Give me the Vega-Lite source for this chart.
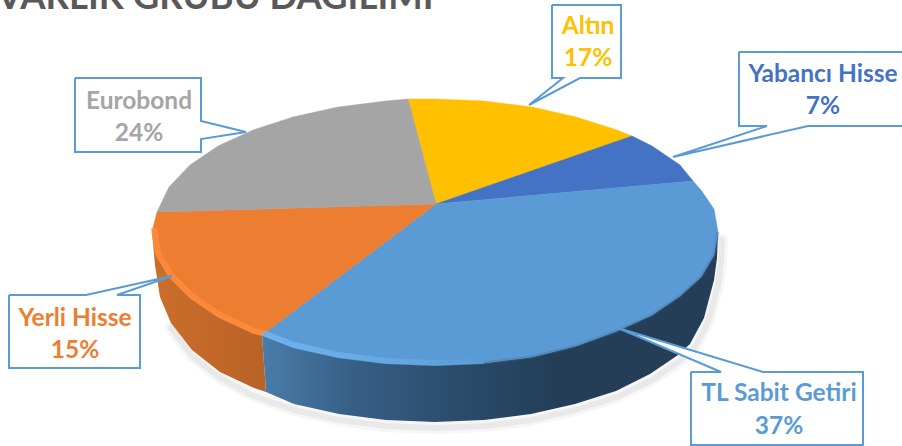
{"$schema":"https://vega.github.io/schema/vega-lite/v6.json","width":902,"height":446,"autosize":{"type":"none"},"padding":0,"background":"white","view":{"stroke":null},
"config":{"font":"Lato"},
"datasets":{
"faces":[
{"s":"Altın","i":0,"x":436,"y":204},{"s":"Altın","i":1,"x":408,"y":99},{"s":"Altın","i":2,"x":435,"y":99},{"s":"Altın","i":3,"x":484,"y":101},{"s":"Altın","i":4,"x":532,"y":107},{"s":"Altın","i":5,"x":576,"y":117},{"s":"Altın","i":6,"x":617,"y":130},{"s":"Altın","i":7,"x":632,"y":136},{"s":"Altın","i":8,"x":436,"y":204},
{"s":"Yabancı Hisse","i":0,"x":436,"y":204},{"s":"Yabancı Hisse","i":1,"x":632,"y":136},{"s":"Yabancı Hisse","i":2,"x":652,"y":146},{"s":"Yabancı Hisse","i":3,"x":680,"y":165},{"s":"Yabancı Hisse","i":4,"x":693,"y":181},{"s":"Yabancı Hisse","i":5,"x":436,"y":204},
{"s":"TL Sabit Getiri","i":0,"x":436,"y":204},{"s":"TL Sabit Getiri","i":1,"x":693,"y":181},{"s":"TL Sabit Getiri","i":2,"x":701,"y":190},{"s":"TL Sabit Getiri","i":3,"x":714,"y":209},{"s":"TL Sabit Getiri","i":4,"x":718,"y":232},{"s":"TL Sabit Getiri","i":5,"x":714,"y":255},{"s":"TL Sabit Getiri","i":6,"x":701,"y":277},{"s":"TL Sabit Getiri","i":7,"x":680,"y":296},{"s":"TL Sabit Getiri","i":8,"x":652,"y":315},{"s":"TL Sabit Getiri","i":9,"x":617,"y":331},{"s":"TL Sabit Getiri","i":10,"x":576,"y":346},{"s":"TL Sabit Getiri","i":11,"x":532,"y":357},{"s":"TL Sabit Getiri","i":12,"x":484,"y":363},{"s":"TL Sabit Getiri","i":13,"x":435,"y":365},{"s":"TL Sabit Getiri","i":14,"x":386,"y":363},{"s":"TL Sabit Getiri","i":15,"x":338,"y":357},{"s":"TL Sabit Getiri","i":16,"x":293,"y":347},{"s":"TL Sabit Getiri","i":17,"x":262,"y":335},{"s":"TL Sabit Getiri","i":18,"x":436,"y":204},
{"s":"Yerli Hisse","i":0,"x":436,"y":204},{"s":"Yerli Hisse","i":1,"x":262,"y":335},{"s":"Yerli Hisse","i":2,"x":253,"y":333},{"s":"Yerli Hisse","i":3,"x":218,"y":317},{"s":"Yerli Hisse","i":4,"x":190,"y":298},{"s":"Yerli Hisse","i":5,"x":169,"y":277},{"s":"Yerli Hisse","i":6,"x":156,"y":255},{"s":"Yerli Hisse","i":7,"x":152,"y":232},{"s":"Yerli Hisse","i":8,"x":157,"y":212},{"s":"Yerli Hisse","i":9,"x":436,"y":204},
{"s":"Eurobond","i":0,"x":436,"y":204},{"s":"Eurobond","i":1,"x":157,"y":212},{"s":"Eurobond","i":2,"x":169,"y":187},{"s":"Eurobond","i":3,"x":190,"y":165},{"s":"Eurobond","i":4,"x":218,"y":146},{"s":"Eurobond","i":5,"x":253,"y":130},{"s":"Eurobond","i":6,"x":293,"y":117},{"s":"Eurobond","i":7,"x":338,"y":107},{"s":"Eurobond","i":8,"x":386,"y":101},{"s":"Eurobond","i":9,"x":408,"y":99},{"s":"Eurobond","i":10,"x":436,"y":204}
],
"sides":[
{"s":"Yerli Hisse","i":0,"x":152,"y":232},{"s":"Yerli Hisse","i":1,"x":156,"y":255},{"s":"Yerli Hisse","i":2,"x":169,"y":277},{"s":"Yerli Hisse","i":3,"x":190,"y":298},{"s":"Yerli Hisse","i":4,"x":218,"y":317},{"s":"Yerli Hisse","i":5,"x":253,"y":333},{"s":"Yerli Hisse","i":6,"x":262,"y":335},{"s":"Yerli Hisse","i":7,"x":266,"y":392},{"s":"Yerli Hisse","i":8,"x":254,"y":388},{"s":"Yerli Hisse","i":9,"x":220,"y":372},{"s":"Yerli Hisse","i":10,"x":192,"y":350},{"s":"Yerli Hisse","i":11,"x":171,"y":323},{"s":"Yerli Hisse","i":12,"x":160,"y":297},{"s":"Yerli Hisse","i":13,"x":155,"y":265},{"s":"Yerli Hisse","i":14,"x":152,"y":232},
{"s":"TL Sabit Getiri","i":0,"x":262,"y":335},{"s":"TL Sabit Getiri","i":1,"x":293,"y":347},{"s":"TL Sabit Getiri","i":2,"x":338,"y":357},{"s":"TL Sabit Getiri","i":3,"x":386,"y":363},{"s":"TL Sabit Getiri","i":4,"x":435,"y":365},{"s":"TL Sabit Getiri","i":5,"x":484,"y":363},{"s":"TL Sabit Getiri","i":6,"x":532,"y":357},{"s":"TL Sabit Getiri","i":7,"x":576,"y":346},{"s":"TL Sabit Getiri","i":8,"x":617,"y":331},{"s":"TL Sabit Getiri","i":9,"x":652,"y":315},{"s":"TL Sabit Getiri","i":10,"x":680,"y":296},{"s":"TL Sabit Getiri","i":11,"x":701,"y":277},{"s":"TL Sabit Getiri","i":12,"x":714,"y":255},{"s":"TL Sabit Getiri","i":13,"x":718,"y":232},{"s":"TL Sabit Getiri","i":14,"x":717,"y":258},{"s":"TL Sabit Getiri","i":15,"x":714,"y":280},{"s":"TL Sabit Getiri","i":16,"x":704,"y":318},{"s":"TL Sabit Getiri","i":17,"x":690,"y":344},{"s":"TL Sabit Getiri","i":18,"x":678,"y":355},{"s":"TL Sabit Getiri","i":19,"x":650,"y":374},{"s":"TL Sabit Getiri","i":20,"x":616,"y":391},{"s":"TL Sabit Getiri","i":21,"x":575,"y":404},{"s":"TL Sabit Getiri","i":22,"x":531,"y":414},{"s":"TL Sabit Getiri","i":23,"x":484,"y":420},{"s":"TL Sabit Getiri","i":24,"x":435,"y":422},{"s":"TL Sabit Getiri","i":25,"x":386,"y":420},{"s":"TL Sabit Getiri","i":26,"x":339,"y":414},{"s":"TL Sabit Getiri","i":27,"x":294,"y":404},{"s":"TL Sabit Getiri","i":28,"x":266,"y":392},{"s":"TL Sabit Getiri","i":29,"x":262,"y":335}
],
"shadow":[
{"i":0,"x":722,"y":240},{"i":1,"x":721,"y":262},{"i":2,"x":718,"y":285},{"i":3,"x":708,"y":322},{"i":4,"x":694,"y":349},{"i":5,"x":681,"y":360},{"i":6,"x":652,"y":380},{"i":7,"x":617,"y":397},{"i":8,"x":575,"y":410},{"i":9,"x":531,"y":420},{"i":10,"x":484,"y":426},{"i":11,"x":435,"y":428},{"i":12,"x":386,"y":426},{"i":13,"x":339,"y":420},{"i":14,"x":294,"y":410},{"i":15,"x":254,"y":396},{"i":16,"x":220,"y":378},{"i":17,"x":192,"y":356},{"i":18,"x":171,"y":328}
],
"rimO":[
{"i":0,"x":154,"y":228},{"i":1,"x":158,"y":253},{"i":2,"x":171,"y":275},{"i":3,"x":192,"y":296},{"i":4,"x":220,"y":315},{"i":5,"x":254,"y":331},{"i":6,"x":263,"y":333}
],
"rimB":[
{"i":0,"x":263,"y":333},{"i":1,"x":294,"y":345},{"i":2,"x":338,"y":355},{"i":3,"x":386,"y":361},{"i":4,"x":435,"y":363},{"i":5,"x":484,"y":361}
],
"rimD":[
{"i":0,"x":484,"y":363},{"i":1,"x":532,"y":357},{"i":2,"x":576,"y":346},{"i":3,"x":617,"y":331},{"i":4,"x":652,"y":315},{"i":5,"x":680,"y":296},{"i":6,"x":701,"y":277},{"i":7,"x":714,"y":255},{"i":8,"x":718,"y":232}
],
"boxes":[
{"s":"Altın","i":0,"x":552,"y":5},{"s":"Altın","i":1,"x":621,"y":5},{"s":"Altın","i":2,"x":621,"y":78},{"s":"Altın","i":3,"x":580,"y":78},{"s":"Altın","i":4,"x":529,"y":105},{"s":"Altın","i":5,"x":563,"y":78},{"s":"Altın","i":6,"x":552,"y":78},{"s":"Altın","i":7,"x":552,"y":5},
{"s":"Yabancı Hisse","i":0,"x":739,"y":52},{"s":"Yabancı Hisse","i":1,"x":905,"y":52},{"s":"Yabancı Hisse","i":2,"x":905,"y":126},{"s":"Yabancı Hisse","i":3,"x":808,"y":126},{"s":"Yabancı Hisse","i":4,"x":673,"y":157},{"s":"Yabancı Hisse","i":5,"x":767,"y":126},{"s":"Yabancı Hisse","i":6,"x":739,"y":126},{"s":"Yabancı Hisse","i":7,"x":739,"y":52},
{"s":"Eurobond","i":0,"x":75,"y":78},{"s":"Eurobond","i":1,"x":201,"y":78},{"s":"Eurobond","i":2,"x":201,"y":121},{"s":"Eurobond","i":3,"x":246,"y":132},{"s":"Eurobond","i":4,"x":201,"y":139},{"s":"Eurobond","i":5,"x":201,"y":152},{"s":"Eurobond","i":6,"x":75,"y":152},{"s":"Eurobond","i":7,"x":75,"y":78},
{"s":"Yerli Hisse","i":0,"x":9,"y":295},{"s":"Yerli Hisse","i":1,"x":86,"y":295},{"s":"Yerli Hisse","i":2,"x":172,"y":276},{"s":"Yerli Hisse","i":3,"x":117,"y":295},{"s":"Yerli Hisse","i":4,"x":140,"y":295},{"s":"Yerli Hisse","i":5,"x":140,"y":368},{"s":"Yerli Hisse","i":6,"x":9,"y":368},{"s":"Yerli Hisse","i":7,"x":9,"y":295},
{"s":"TL Sabit Getiri","i":0,"x":691,"y":372},{"s":"TL Sabit Getiri","i":1,"x":721,"y":372},{"s":"TL Sabit Getiri","i":2,"x":618,"y":328},{"s":"TL Sabit Getiri","i":3,"x":763,"y":372},{"s":"TL Sabit Getiri","i":4,"x":863,"y":372},{"s":"TL Sabit Getiri","i":5,"x":863,"y":445},{"s":"TL Sabit Getiri","i":6,"x":691,"y":445},{"s":"TL Sabit Getiri","i":7,"x":691,"y":372}
],
"labels":[
{"s":"Altın","pct":0.17,"x":588,"y1":27,"y2":59},
{"s":"Yabancı Hisse","pct":0.07,"x":823,"y1":75,"y2":107},
{"s":"Eurobond","pct":0.24,"x":139,"y1":102,"y2":134},
{"s":"Yerli Hisse","pct":0.15,"x":75,"y1":319,"y2":351},
{"s":"TL Sabit Getiri","pct":0.37,"x":779,"y1":394,"y2":427}
],
"title":[{"t":"VARLIK GRUBU DAĞILIMI","x":-3,"y":9}]
},
"encoding":{
"x":{"field":"x","type":"quantitative","scale":{"domain":[0,902],"nice":false,"zero":false},"axis":null},
"y":{"field":"y","type":"quantitative","scale":{"domain":[446,0],"nice":false,"zero":false},"axis":null}
},
"layer":[
{"data":{"name":"title"},"mark":{"type":"text","align":"left","baseline":"alphabetic","fontSize":36.5,"fontWeight":"bold","font":"Lato","color":"#595959"},"encoding":{"text":{"field":"t"}}},
{"data":{"name":"shadow"},"mark":{"type":"line","stroke":"#000000","strokeWidth":12,"opacity":0.035,"strokeCap":"round","strokeJoin":"round"},"encoding":{"order":{"field":"i"}}},
{"data":{"name":"shadow"},"mark":{"type":"line","stroke":"#000000","strokeWidth":6,"opacity":0.05,"strokeCap":"round","strokeJoin":"round"},"encoding":{"order":{"field":"i"}}},
{"data":{"name":"sides"},"transform":[{"filter":"datum.s==='Yerli Hisse'"}],"mark":{"type":"line","fill":{"gradient":"linear","x1":0,"x2":1,"y1":0,"y2":0,"stops":[{"offset":0,"color":"#CC6E2B"},{"offset":1,"color":"#B86226"}]},"stroke":null},"encoding":{"order":{"field":"i"}}},
{"data":{"name":"sides"},"transform":[{"filter":"datum.s==='TL Sabit Getiri'"}],"mark":{"type":"line","fill":{"gradient":"linear","x1":0,"x2":1,"y1":0,"y2":0,"stops":[{"offset":0,"color":"#4A7CA8"},{"offset":0.2,"color":"#375F86"},{"offset":0.45,"color":"#2A4A69"},{"offset":0.65,"color":"#233E56"},{"offset":1,"color":"#233E56"}]},"stroke":null},"encoding":{"order":{"field":"i"}}},
{"data":{"name":"faces"},"mark":{"type":"line","strokeWidth":0.5},"encoding":{"detail":{"field":"s"},"order":{"field":"i"},
"fill":{"field":"s","type":"nominal","legend":null,"scale":{"domain":["Altın","Yabancı Hisse","TL Sabit Getiri","Yerli Hisse","Eurobond"],"range":["#FFC000","#4472C4","#5B9BD5","#ED7D31","#A5A5A5"]}},
"stroke":{"field":"s","type":"nominal","legend":null,"scale":{"domain":["Altın","Yabancı Hisse","TL Sabit Getiri","Yerli Hisse","Eurobond"],"range":["#FFC000","#4472C4","#5B9BD5","#ED7D31","#A5A5A5"]}}}},
{"data":{"name":"rimD"},"mark":{"type":"line","stroke":"#3E6E9A","strokeWidth":3,"opacity":0.35},"encoding":{"order":{"field":"i"}}},
{"data":{"name":"rimO"},"mark":{"type":"line","stroke":"#FF8E3C","strokeWidth":6,"opacity":0.75},"encoding":{"order":{"field":"i"}}},
{"data":{"name":"rimB"},"mark":{"type":"line","strokeWidth":6,"opacity":0.75,"stroke":{"gradient":"linear","x1":0,"x2":1,"y1":0,"y2":0,"stops":[{"offset":0,"color":"#74BBF7"},{"offset":0.6,"color":"#66ABE8"},{"offset":1,"color":"#5B9BD5"}]}},"encoding":{"order":{"field":"i"}}},
{"data":{"name":"boxes"},"mark":{"type":"line","fill":"#FFFFFF","stroke":"#5B9BD5","strokeWidth":2,"strokeJoin":"miter"},"encoding":{"detail":{"field":"s"},"order":{"field":"i"}}},
{"data":{"name":"labels"},"mark":{"type":"text","fontSize":24.5,"fontWeight":"bold","font":"Lato"},"encoding":{"y":{"field":"y1","type":"quantitative"},"text":{"field":"s"},"color":{"field":"s","type":"nominal","legend":null,"scale":{"domain":["Altın","Yabancı Hisse","TL Sabit Getiri","Yerli Hisse","Eurobond"],"range":["#FFC000","#4472C4","#5B9BD5","#ED7D31","#A5A5A5"]}}}},
{"data":{"name":"labels"},"mark":{"type":"text","fontSize":24.5,"fontWeight":"bold","font":"Lato"},"encoding":{"y":{"field":"y2","type":"quantitative"},"text":{"field":"pct","type":"quantitative","format":".0%"},"color":{"field":"s","type":"nominal","legend":null,"scale":{"domain":["Altın","Yabancı Hisse","TL Sabit Getiri","Yerli Hisse","Eurobond"],"range":["#FFC000","#4472C4","#5B9BD5","#ED7D31","#A5A5A5"]}}}}
]}
